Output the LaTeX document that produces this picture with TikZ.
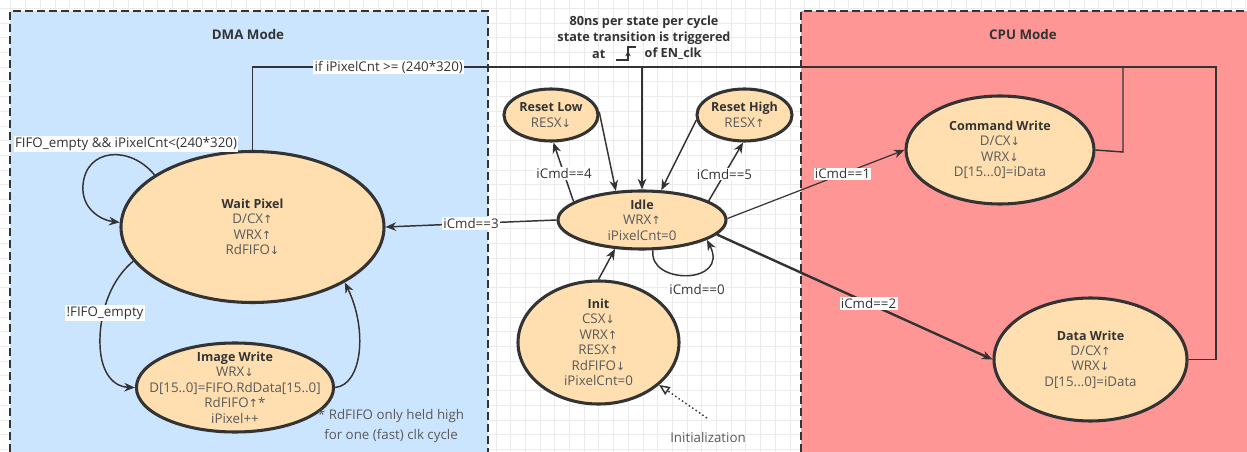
\documentclass[tikz,border=0pt]{standalone}
\usepackage{fontspec}
\setmainfont{Open Sans}
\newfontfamily\arrfont{DejaVu Sans}
\usetikzlibrary{shapes.geometric,arrows.meta}
\definecolor{dmabg}{HTML}{CCE5FF}
\definecolor{cpubg}{HTML}{FF9696}
\definecolor{peach}{HTML}{FFDFB0}
\definecolor{dark}{HTML}{333333}
\definecolor{txt}{HTML}{5A5A5A}
\definecolor{gridc}{HTML}{EBEBEB}
\newcommand\UP{{\arrfont\fontsize{8.5}{8}\selectfont ↑}}
\newcommand\DN{{\arrfont\fontsize{8.5}{8}\selectfont ↓}}
\newcommand\T[1]{{\color{dark}\bfseries\fontsize{9.4}{11.6}\selectfont #1}}
\begin{document}
\begin{tikzpicture}[x=0.75pt,y=-0.75pt,
  state/.style={ellipse, draw=dark, line width=2.3pt, fill=peach, inner sep=0pt,
    align=center, text=txt, font=\fontsize{10}{11.6}\selectfont},
  lbl/.style={fill=white, inner sep=1pt, text=dark, font=\fontsize{10}{11}\selectfont},
  ttl/.style={text=dark, font=\bfseries\fontsize{9.5}{12}\selectfont, align=center},
  conn/.style={draw=dark, line width=1.1pt},
  tr/.style={conn, -{Stealth[length=8pt,width=6.5pt]}},
  modebox/.style={dash pattern=on 6pt off 3pt, line width=1.6pt, draw=dark}
]
\useasboundingbox (0,0) rectangle (1247,452);
\fill[white] (0,0) rectangle (1247,452);
% grid
\foreach \i in {0,...,85} {\draw[gridc, line width=0.6pt] ({10.8+\i*14.7},0) -- ({10.8+\i*14.7},452);}
\foreach \j in {0,...,31} {\draw[gridc, line width=0.6pt] (0,{8.4+\j*14.7}) -- (1247,{8.4+\j*14.7});}
% mode boxes
\fill[dmabg] (10,11) rectangle (488,452);
\draw[modebox] (10,452) -- (10,11) -- (488,11) -- (488,452);
\fill[cpubg] (801,11) rectangle (1247,452);
\draw[modebox] (801,452) -- (801,11) -- (1247,11);
\node[ttl, font=\bfseries\fontsize{10}{12}\selectfont] (dmat) at (248,35) {DMA Mode};
\node[ttl, font=\bfseries\fontsize{10}{12}\selectfont] (cput) at (1023,35) {CPU Mode};
% header text
\node[ttl] (h1) at (644,22) {80ns per state per cycle};
\node[ttl] (h2) at (644,38) {state transition is triggered};
\node[ttl, anchor=east] (h3a) at (610,54) {at};
\node[ttl, anchor=west] (h3b) at (640,54) {of EN\_clk};
\draw[dark, line width=1pt] (616,60) -- (628,60) -- (628,47) -- (636,47);
\draw[dark, line width=1pt, -{Stealth[length=4pt,width=4pt]}] (628,58) -- (628,51);
% states
\node[state, minimum width=263*0.75pt, minimum height=151*0.75pt] (wait) at (252.5,227)
  {\T{Wait Pixel}\\D/CX\UP\\WRX\UP\\RdFIFO\DN};
\node[state, inner xsep=-12pt, inner ysep=-6pt, minimum width=192*0.75pt, minimum height=89*0.75pt] (img) at (235,387.5)
  {\T{Image Write}\\WRX\DN\\D[15..0]=FIFO.RdData[15..0]\\RdFIFO\UP*\\iPixel++};
\node[state, minimum width=168*0.75pt, minimum height=58*0.75pt] (idle) at (642,220)
  {\T{Idle}\\WRX\UP\\iPixelCnt=0};
\node[state, minimum width=94*0.75pt, minimum height=52*0.75pt] (rlow) at (551,115)
  {\T{Reset Low}\\RESX\DN};
\node[state, minimum width=95*0.75pt, minimum height=52*0.75pt] (rhigh) at (744.5,115)
  {\T{Reset High}\\RESX\UP};
\node[state, minimum width=161*0.75pt, minimum height=107*0.75pt] (init) at (598.5,342.5)
  {\T{Init}\\CSX\DN\\WRX\UP\\RESX\UP\\RdFIFO\DN\\iPixelCnt=0};
\node[state, minimum width=188*0.75pt, minimum height=108*0.75pt] (cmd) at (1000,150)
  {\T{Command Write}\\D/CX\DN\\WRX\DN\\D[15...0]=iData};
\node[state, minimum width=193*0.75pt, minimum height=123*0.75pt] (data) at (1090.5,359.5)
  {\T{Data Write}\\D/CX\UP\\WRX\DN\\D[15...0]=iData};
% return paths to Idle
\coordinate (top) at (642,67);
\draw[conn] (cmd.east) -- (1123,152) -- (1123,67) -- (top);
\draw[conn] (data.east) -- (1216,359.5) -- (1216,67) -- (top);
\draw[tr] (wait.north) -- (wait.north |- top) -- node[lbl, pos=0.35] {if iPixelCnt >= (240*320)} (top) -- (idle.north);
% wait loop
\draw[tr] (wait.152) .. controls (130,145) and (86,148) .. (83,185) .. controls (81,208) and (100,220) .. (wait.178);
\node[lbl] (loopl) at (126,144) {FIFO\_empty \&\& iPixelCnt<(240*320)};
% wait <-> image
\draw[tr] (wait.196) .. controls (108,282) and (99,318) .. (100,345) .. controls (101,375) and (115,387) .. (img.west);
\node[lbl] (nfl) at (105,313) {!FIFO\_empty};
\draw[tr] (img.east) .. controls (362,385) and (368,330) .. (wait.329);
\node[text=txt, align=center, font=\fontsize{10}{15}\selectfont] (note) at (391,426) {* RdFIFO only held high\\for one (fast) clk cycle};
% idle transitions
\draw[tr] (idle.west) -- node[lbl, pos=0.5] {iCmd==3} (wait.east);
\draw[tr] (idle.165) -- node[lbl, pos=0.47] {iCmd==4} (rlow.275);
\draw[tr] (rlow.4) -- (idle.132);
\draw[tr] (rhigh.186) -- (idle.57);
\draw[tr] (idle.16) -- node[lbl, pos=0.46] {iCmd==5} (rhigh.267);
\draw[tr] (init.north) -- (idle.227);
\draw[tr] (idle.290) .. controls (648,285) and (730,285) .. (idle.343);
\node[lbl] (l0) at (697,290) {iCmd==0};
\draw[tr, line width=0.9pt] (idle.1) -- node[lbl, pos=0.65] {iCmd==1} (cmd.west);
\draw[tr, line width=1.8pt] (idle.349) -- node[lbl, pos=0.55] {iCmd==2} (data.west);
% initialization
\node[text=txt, font=\fontsize{10}{11}\selectfont] (initl) at (708,438) {Initialization};
\coordinate (inis) at (707,418);
\draw[dark, line width=1.1pt, dotted, -{Triangle[open,length=8pt,width=7pt]}] (inis) -- (init.325);
\end{tikzpicture}
\end{document}
